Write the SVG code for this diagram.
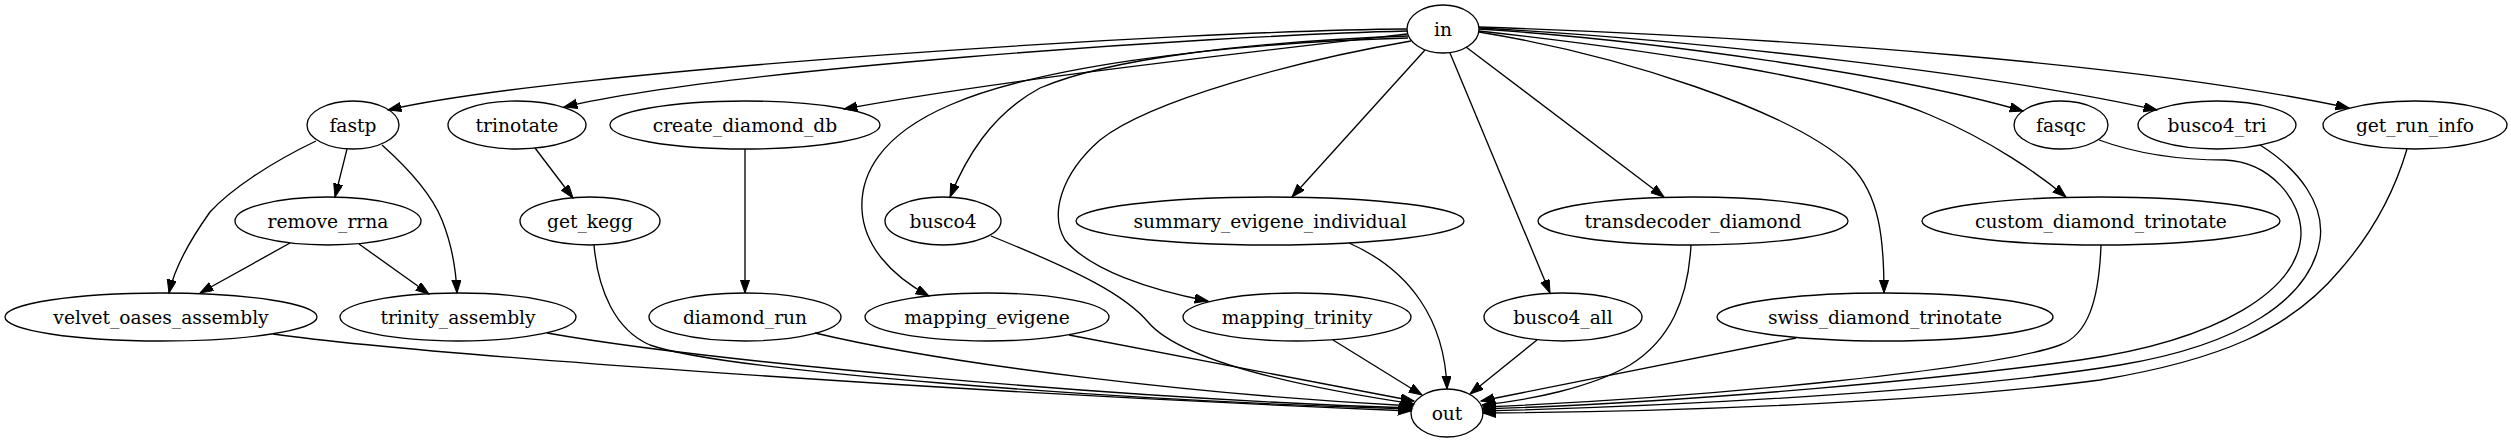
<svg xmlns="http://www.w3.org/2000/svg" width="2511" height="443" viewBox="0 0 2511 443">
<defs>
<marker id="ah" markerUnits="userSpaceOnUse" markerWidth="15" markerHeight="11" refX="13.3" refY="4.67" orient="auto">
<path d="M0,0 L13.3,4.67 L0,9.33 z" fill="#000" stroke="#000" stroke-width="1"/>
</marker>
<style>
.n ellipse{fill:none;stroke:#000;stroke-width:1.33}
.n text{font-family:"DejaVu Serif",serif;font-size:18.67px;text-anchor:middle;fill:#000}
#edges path{fill:none;stroke:#000;stroke-width:1.33;marker-end:url(#ah)}
</style>
</defs>
<rect width="2511" height="443" fill="#fff"/>
<g id="edges">
<path d="M1407,29 C1200,30 560,70 388,110"/>
<path d="M1407,31 C1200,36 720,70 564,107"/>
<path d="M1407,34 C1250,52 1000,80 844,109"/>
<path d="M1408,36 C1250,42 1110,58 1040,88 C990,115 965,160 950,197"/>
<path d="M1408,38 C1200,44 1030,70 950,105 C880,135 860,175 862,210 C864,245 890,275 929,296"/>
<path d="M1411,41 C1300,60 1150,100 1100,140 C1060,175 1050,215 1065,240 C1090,270 1150,290 1208,301"/>
<path d="M1425,50 L1292,197"/>
<path d="M1450,53 L1550,293"/>
<path d="M1466,47 L1664,197"/>
<path d="M1479,32 C1620,55 1790,110 1850,165 C1880,195 1884,240 1884,293"/>
<path d="M1479,31 C1650,50 1850,80 1930,115 C1990,140 2040,175 2066,197"/>
<path d="M1479,29 C1650,40 1900,75 2023,111"/>
<path d="M1479,28 C1700,40 2000,75 2157,110"/>
<path d="M1479,27 C1800,38 2150,65 2349,108"/>
<path d="M347,149 L335,197"/>
<path d="M316,141 C270,163 230,190 210,212 C190,240 174,270 169,293"/>
<path d="M382,145 C410,170 432,195 442,220 C452,245 456,270 457,293"/>
<path d="M290,243 L200,293"/>
<path d="M359,244 L429,294"/>
<path d="M535,148 L573,198"/>
<path d="M745,149 L745,293"/>
<path d="M273,334 C400,352 900,390 1411,411"/>
<path d="M547,333 C700,360 1100,398 1412,408"/>
<path d="M594,245 C598,290 615,330 650,345 C720,370 1100,400 1412,409"/>
<path d="M815,333 C950,365 1200,395 1413,406"/>
<path d="M1069,335 L1414,401"/>
<path d="M991,236 C1080,272 1125,295 1148,322 C1170,348 1240,378 1414,404"/>
<path d="M1333,340 L1422,395"/>
<path d="M1349,243 C1410,270 1445,320 1447,389"/>
<path d="M1537,340 L1470,394"/>
<path d="M1691,245 C1688,300 1670,340 1630,365 C1590,388 1530,400 1482,405"/>
<path d="M1796,338 L1481,401"/>
<path d="M2101,245 C2099,300 2088,335 2060,345 C1990,370 1700,398 1483,407"/>
<path d="M2099,140 C2140,155 2185,160 2225,160 C2270,162 2302,200 2301,235 C2298,290 2220,340 2080,360 C1950,378 1700,402 1483,409"/>
<path d="M2260,145 C2300,170 2325,205 2320,240 C2310,300 2240,345 2120,365 C1980,388 1720,405 1483,411"/>
<path d="M2407,149 C2395,190 2375,230 2340,270 C2290,330 2220,360 2100,380 C1950,400 1700,412 1483,413"/>
</g>
<g id="in" class="n"><ellipse cx="1443" cy="29" rx="36" ry="24"/><text x="1443" y="35.5">in</text></g>
<g id="fastp" class="n"><ellipse cx="353" cy="125" rx="46" ry="24"/><text x="353" y="131.5">fastp</text></g>
<g id="trinotate" class="n"><ellipse cx="517" cy="125" rx="69" ry="24"/><text x="517" y="131.5">trinotate</text></g>
<g id="create_diamond_db" class="n"><ellipse cx="745" cy="125" rx="135" ry="24"/><text x="745" y="131.5">create_diamond_db</text></g>
<g id="fasqc" class="n"><ellipse cx="2061" cy="125" rx="47" ry="24"/><text x="2061" y="131.5">fasqc</text></g>
<g id="busco4_tri" class="n"><ellipse cx="2217" cy="125" rx="79" ry="24"/><text x="2217" y="131.5">busco4_tri</text></g>
<g id="get_run_info" class="n"><ellipse cx="2415" cy="125" rx="92" ry="24"/><text x="2415" y="131.5">get_run_info</text></g>
<g id="remove_rrna" class="n"><ellipse cx="328" cy="221" rx="93" ry="24"/><text x="328" y="227.5">remove_rrna</text></g>
<g id="get_kegg" class="n"><ellipse cx="590" cy="221" rx="70" ry="24"/><text x="590" y="227.5">get_kegg</text></g>
<g id="busco4" class="n"><ellipse cx="943" cy="221" rx="58" ry="24"/><text x="943" y="227.5">busco4</text></g>
<g id="summary_evigene_individual" class="n"><ellipse cx="1270" cy="221" rx="194" ry="24"/><text x="1270" y="227.5">summary_evigene_individual</text></g>
<g id="transdecoder_diamond" class="n"><ellipse cx="1693" cy="221" rx="155" ry="24"/><text x="1693" y="227.5">transdecoder_diamond</text></g>
<g id="custom_diamond_trinotate" class="n"><ellipse cx="2101" cy="221" rx="179" ry="24"/><text x="2101" y="227.5">custom_diamond_trinotate</text></g>
<g id="velvet_oases_assembly" class="n"><ellipse cx="161" cy="317" rx="156" ry="24"/><text x="161" y="323.5">velvet_oases_assembly</text></g>
<g id="trinity_assembly" class="n"><ellipse cx="458" cy="317" rx="118" ry="24"/><text x="458" y="323.5">trinity_assembly</text></g>
<g id="diamond_run" class="n"><ellipse cx="745" cy="317" rx="96" ry="24"/><text x="745" y="323.5">diamond_run</text></g>
<g id="mapping_evigene" class="n"><ellipse cx="987" cy="317" rx="122" ry="24"/><text x="987" y="323.5">mapping_evigene</text></g>
<g id="mapping_trinity" class="n"><ellipse cx="1297" cy="317" rx="114" ry="24"/><text x="1297" y="323.5">mapping_trinity</text></g>
<g id="busco4_all" class="n"><ellipse cx="1563" cy="317" rx="79" ry="24"/><text x="1563" y="323.5">busco4_all</text></g>
<g id="swiss_diamond_trinotate" class="n"><ellipse cx="1885" cy="317" rx="168" ry="24"/><text x="1885" y="323.5">swiss_diamond_trinotate</text></g>
<g id="out" class="n"><ellipse cx="1447" cy="413" rx="36" ry="24"/><text x="1447" y="419.5">out</text></g>
</svg>
